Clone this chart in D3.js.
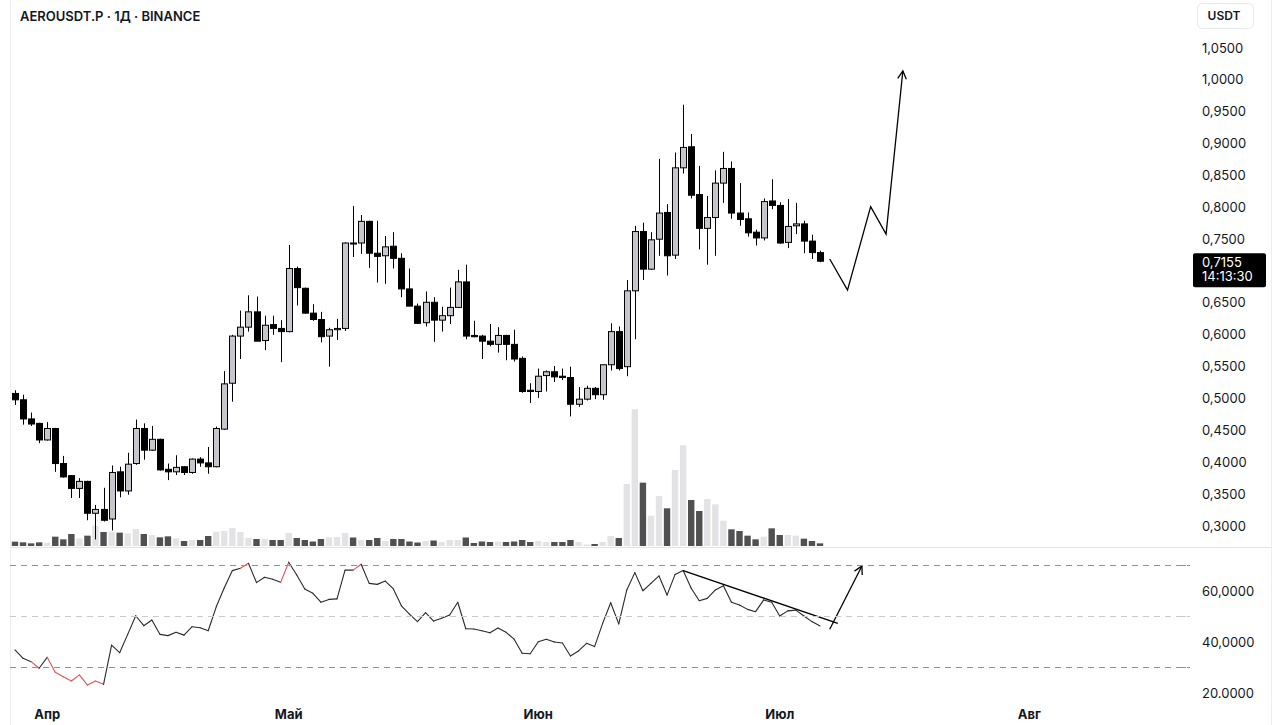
<!DOCTYPE html>
<html><head><meta charset="utf-8">
<script src="https://cdn.jsdelivr.net/npm/d3@7"></script>
<style>
body{margin:0;background:#fff;}
svg{display:block;font-family:Inter,"Noto Sans",sans-serif;}
</style>
</head><body><svg id="c" width="1280" height="725"></svg>
<script>
// ---------- DATA ----------
const title = "AEROUSDT.P · 1Д · BINANCE";
const currency = "USDT";
const firstDay = "2025-03-28";
const lastPrice = 0.7155;
const countdown = "14:13:30";
const monthLabels = ["Апр","Май","Июн","Июл","Авг"];
const priceTicks = [0.30,0.35,0.40,0.45,0.50,0.55,0.60,0.65,0.75,0.80,0.85,0.90,0.95,1.00,1.05];
const rsiTicks = [20,40,60];
const rsiTickLabels = ["20.0000","40,0000","60,0000"];
const rsiLevels = [70,50,30];

const opens = [0.508,0.498,0.468,0.461,0.435,0.453,0.398,0.379,0.359,0.370,
0.320,0.326,0.311,0.385,0.355,0.398,0.453,0.419,0.436,0.389,
0.385,0.393,0.384,0.405,0.399,0.393,0.452,0.524,0.598,0.612,
0.636,0.591,0.616,0.610,0.605,0.704,0.673,0.634,0.624,0.598,
0.608,0.610,0.744,0.744,0.778,0.728,0.724,0.739,0.720,0.672,
0.645,0.619,0.651,0.623,0.630,0.643,0.683,0.599,0.598,0.590,
0.585,0.599,0.585,0.563,0.513,0.511,0.536,0.542,0.535,0.533,
0.491,0.499,0.516,0.506,0.553,0.605,0.550,0.669,0.762,0.703,
0.750,0.792,0.725,0.862,0.895,0.820,0.767,0.784,0.838,0.861,
0.791,0.782,0.761,0.752,0.810,0.803,0.745,0.771,0.774,0.747,
0.729];
const highs = [0.513,0.506,0.478,0.462,0.463,0.454,0.410,0.380,0.375,0.371,
0.333,0.360,0.395,0.393,0.415,0.467,0.461,0.457,0.437,0.398,
0.411,0.394,0.406,0.408,0.424,0.456,0.543,0.600,0.638,0.662,
0.660,0.630,0.630,0.623,0.741,0.707,0.674,0.648,0.636,0.611,
0.625,0.745,0.802,0.788,0.779,0.779,0.755,0.761,0.728,0.704,
0.649,0.668,0.659,0.644,0.674,0.702,0.710,0.622,0.600,0.617,
0.612,0.600,0.608,0.566,0.524,0.547,0.544,0.551,0.547,0.550,
0.518,0.520,0.518,0.553,0.618,0.613,0.686,0.771,0.776,0.761,
0.876,0.805,0.886,0.961,0.915,0.865,0.818,0.858,0.887,0.872,
0.838,0.792,0.765,0.814,0.844,0.808,0.813,0.807,0.779,0.757,
0.732];
const lows = [0.490,0.459,0.457,0.430,0.434,0.385,0.376,0.344,0.344,0.309,
0.279,0.307,0.293,0.345,0.349,0.396,0.404,0.418,0.387,0.372,
0.380,0.380,0.382,0.393,0.382,0.392,0.451,0.495,0.562,0.605,
0.590,0.576,0.600,0.557,0.604,0.646,0.633,0.622,0.588,0.550,
0.592,0.606,0.722,0.727,0.705,0.682,0.680,0.704,0.659,0.645,
0.617,0.613,0.589,0.605,0.617,0.642,0.593,0.596,0.562,0.582,
0.572,0.560,0.558,0.509,0.493,0.501,0.511,0.526,0.529,0.472,
0.487,0.497,0.499,0.498,0.544,0.544,0.535,0.593,0.686,0.702,
0.724,0.693,0.719,0.853,0.814,0.734,0.710,0.724,0.807,0.782,
0.771,0.754,0.740,0.748,0.797,0.743,0.736,0.758,0.728,0.719,
0.714];
const closes = [0.498,0.468,0.460,0.435,0.453,0.398,0.377,0.359,0.370,0.320,
0.326,0.309,0.384,0.355,0.397,0.453,0.419,0.436,0.388,0.385,
0.392,0.384,0.405,0.399,0.393,0.453,0.523,0.598,0.612,0.636,
0.590,0.615,0.610,0.605,0.704,0.674,0.634,0.624,0.597,0.608,
0.610,0.744,0.743,0.778,0.728,0.723,0.738,0.720,0.672,0.645,
0.618,0.651,0.623,0.630,0.643,0.683,0.598,0.597,0.590,0.585,
0.599,0.585,0.562,0.511,0.511,0.535,0.542,0.534,0.533,0.491,
0.499,0.516,0.506,0.553,0.605,0.547,0.669,0.762,0.703,0.749,
0.791,0.724,0.862,0.894,0.819,0.767,0.784,0.838,0.861,0.791,
0.781,0.760,0.752,0.809,0.803,0.744,0.770,0.774,0.747,0.729,
0.7155];
const volumes = [1.3,1.1,0.8,1.1,1.0,2.8,2.0,3.6,2.3,3.1,
6.1,4.2,4.3,4.0,3.8,5.1,3.6,3.3,2.6,2.9,
2.3,1.5,1.8,1.8,3.0,4.3,4.5,5.4,4.2,2.4,
2.1,2.1,1.8,1.8,3.9,2.4,1.8,1.35,2.1,2.6,
2.7,3.9,2.55,1.8,1.8,2.4,1.5,2.1,2.1,1.35,
1.05,1.5,1.65,1.2,1.8,1.8,2.55,0.9,1.35,1.2,
1.35,1.2,1.35,1.8,1.2,1.5,1.2,1.2,1.2,1.8,
1.2,0.45,0.6,1.2,3.0,2.4,18.6,41.0,19.0,9.1,
15.0,11.3,22.8,30.2,13.8,10.5,14.1,12.5,7.6,5.0,
4.5,3.1,2.0,2.8,5.3,3.3,3.3,3.1,2.2,1.5,
0.8];
const rsi = [36.9,33.6,32.3,29.7,34.0,28.1,26.4,24.7,27.1,23.1,
24.7,23.4,38.8,35.8,43.0,50.3,46.4,48.6,43.0,42.5,
43.8,42.7,46.0,45.6,44.4,53.8,61.3,68.0,68.9,70.9,
63.3,65.4,64.6,63.4,71.3,66.3,60.8,59.1,55.6,56.7,
56.9,68.2,68.2,70.5,63.0,62.6,63.9,60.8,54.2,50.9,
48.0,51.5,48.2,49.3,50.6,55.6,45.2,45.1,44.4,43.6,
45.5,43.8,41.1,35.6,35.4,40.1,41.1,40.0,39.6,34.5,
36.5,39.5,38.2,47.3,55.4,47.1,60.4,67.2,60.1,63.0,
65.9,58.4,66.5,68.0,61.1,56.2,57.1,60.4,62.1,55.6,
54.5,52.8,51.9,56.5,55.6,50.2,52.2,52.5,50.2,48.0,
46.3];
// drawn annotations
const projTimes = ["2025-07-07T05:00Z","2025-07-09T10:00Z","2025-07-12T07:00Z","2025-07-14T05:00Z","2025-07-16T07:00Z"];
const projPrices = [0.719,0.670,0.801,0.758,1.014];
const rsiTrendTimes = ["2025-06-19T00:00Z","2025-07-08T05:00Z"];
const rsiTrendValues = [68.0,47.3];
const rsiArrowTimes = ["2025-07-07T05:00Z","2025-07-11T05:00Z"];
const rsiArrowValues = [45.0,69.8];

// ---------- SCALES ----------
const svg = d3.select("#c");
const day0 = new Date(firstDay+"T00:00Z");
const dates = d3.utcDay.range(day0, d3.utcDay.offset(day0, opens.length));
const x = d3.scaleUtc().domain([day0, new Date("2025-08-01T00:00Z")]).range([15, 1029.3]);
const y = d3.scaleLinear().domain([0.30, 1.05]).range([526, 48]);
const yv = d3.scaleLinear().domain([0, 41]).range([546, 409.3]);
const yr = d3.scaleLinear().domain([20, 60]).range([693, 591]);
const PL = 10, PR = 1190;
const fmt = v => d3.format(".4f")(v).replace(".", ",");

svg.append("defs").append("clipPath").attr("id","plot")
  .append("rect").attr("x",PL).attr("y",0).attr("width",PR-PL).attr("height",725);

// frame lines
svg.append("line").attr("x1",PL+0.5).attr("x2",PL+0.5).attr("y1",0).attr("y2",725).attr("stroke","#eceef2");
svg.append("line").attr("x1",1271.5).attr("x2",1271.5).attr("y1",0).attr("y2",725).attr("stroke","#eceef2");
svg.append("line").attr("x1",PL).attr("x2",1271).attr("y1",547.5).attr("y2",547.5).attr("stroke","#e0e3eb");

const plot = svg.append("g").attr("clip-path","url(#plot)");

// volume
const data = dates.map((d,i)=>({d,o:opens[i],h:highs[i],l:lows[i],c:closes[i],v:volumes[i],r:rsi[i]}));
plot.append("g").selectAll("rect").data(data).join("rect")
  .attr("x",d=>x(d.d)-3.2).attr("width",6.4)
  .attr("y",d=>yv(d.v)).attr("height",d=>yv(0)-yv(d.v))
  .attr("fill",d=>d.c>=d.o?"#e3e3e5":"#505050");

// candles
const cg = plot.append("g");
cg.selectAll("line").data(data).join("line")
  .attr("x1",d=>Math.round(x(d.d))+0.5).attr("x2",d=>Math.round(x(d.d))+0.5)
  .attr("y1",d=>y(d.h)).attr("y2",d=>y(d.l)).attr("stroke","#000").attr("stroke-width",1);
cg.selectAll("rect").data(data).join("rect")
  .attr("x",d=>Math.round(x(d.d))-2.5).attr("width",6)
  .attr("y",d=>y(Math.max(d.o,d.c)))
  .attr("height",d=>Math.max(1,Math.abs(y(d.o)-y(d.c))))
  .attr("fill",d=>d.c>=d.o?"#c6c6cc":"#000")
  .attr("stroke","#000").attr("stroke-width",1);

// price projection
const projPts = projTimes.map((t,i)=>[x(new Date(t)), y(projPrices[i])]);
function arrowHead(g, pts){
  const [a,b] = pts.slice(-2);
  const ang = Math.atan2(b[1]-a[1], b[0]-a[0]);
  const L = 9, s = 0.5;
  const p1 = [b[0]-L*Math.cos(ang-s), b[1]-L*Math.sin(ang-s)];
  const p2 = [b[0]-L*Math.cos(ang+s), b[1]-L*Math.sin(ang+s)];
  g.append("path").attr("d",d3.line()([p1,b,p2])).attr("fill","none").attr("stroke","#000").attr("stroke-width",1.3);
}
const ann = svg.append("g");
ann.append("path").attr("d",d3.line()(projPts)).attr("fill","none").attr("stroke","#000").attr("stroke-width",1.3);
arrowHead(ann, projPts);

// RSI levels
rsiLevels.forEach(l=>{
  svg.append("line").attr("x1",PL).attr("x2",PR).attr("y1",yr(l)).attr("y2",yr(l))
    .attr("stroke", l===50?"#c8cad0":"#8e9199").attr("stroke-dasharray","6,5").attr("stroke-width",1);
  svg.append("line").attr("x1",1181).attr("x2",1186).attr("y1",yr(l)).attr("y2",yr(l))
    .attr("stroke", l===50?"#c8cad0":"#8e9199");
});

// RSI line segments
const rg = plot.append("g");
for(let i=1;i<data.length;i++){
  const p=data[i-1], q=data[i];
  const red = q.r>70 || q.r<30;
  rg.append("line").attr("x1",x(p.d)).attr("y1",yr(p.r)).attr("x2",x(q.d)).attr("y2",yr(q.r))
    .attr("stroke",red?"#e0535a":"#2a2a2a").attr("stroke-width",1.1).attr("stroke-linecap","round");
}
// RSI trend line & arrow
const trendPts = rsiTrendTimes.map((t,i)=>[x(new Date(t)), yr(rsiTrendValues[i])]);
ann.append("path").attr("d",d3.line()(trendPts)).attr("stroke","#000").attr("stroke-width",1.5).attr("fill","none");
const arrPts = rsiArrowTimes.map((t,i)=>[x(new Date(t)), yr(rsiArrowValues[i])]);
ann.append("path").attr("d",d3.line()(arrPts)).attr("stroke","#000").attr("stroke-width",1.3).attr("fill","none");
arrowHead(ann, arrPts);

// price axis labels
svg.append("g").selectAll("text").data(priceTicks).join("text")
  .attr("x",1202).attr("y",d=>y(d)).attr("dy","0.35em")
  .attr("font-size",13).attr("fill","#131722").text(d=>fmt(d));
// RSI axis labels
svg.append("g").selectAll("text").data(rsiTicks).join("text")
  .attr("x",1202).attr("y",d=>yr(d)).attr("dy","0.35em")
  .attr("font-size",13).attr("fill","#131722").text((d,i)=>rsiTickLabels[i]);

// last price label
const ly = y(lastPrice);
svg.append("rect").attr("x",1193).attr("y",ly-8).attr("width",73).attr("height",34).attr("rx",2).attr("fill","#000");
svg.append("text").attr("x",1202).attr("y",ly+1).attr("dy","0.35em").attr("font-size",13).attr("fill","#fff").text(fmt(lastPrice));
svg.append("text").attr("x",1202).attr("y",ly+15).attr("dy","0.35em").attr("font-size",13).attr("fill","#fff").text(countdown);

// currency box
svg.append("rect").attr("x",1197.5).attr("y",3.5).attr("width",56).attr("height",25).attr("rx",5)
  .attr("fill","#fff").attr("stroke","#e6e8ee");
svg.append("text").attr("x",1224).attr("y",16).attr("dy","0.35em").attr("text-anchor","middle")
  .attr("font-size",12).attr("font-weight",600).attr("fill","#131722").text(currency);

// title
svg.append("text").attr("x",20).attr("y",16).attr("dy","0.35em").attr("font-size",13).attr("font-weight",600)
  .attr("fill","#131722").text(title);

// month labels
const months = d3.utcMonth.range(new Date("2025-04-01T00:00Z"), new Date("2025-08-02T00:00Z"));
svg.append("g").selectAll("text").data(months).join("text")
  .attr("x",d=>x(d)).attr("y",714).attr("dy","0.35em").attr("text-anchor","middle")
  .attr("font-size",13).attr("font-weight",700).attr("fill","#131722").text((d,i)=>monthLabels[i]);
</script>
</body></html>
